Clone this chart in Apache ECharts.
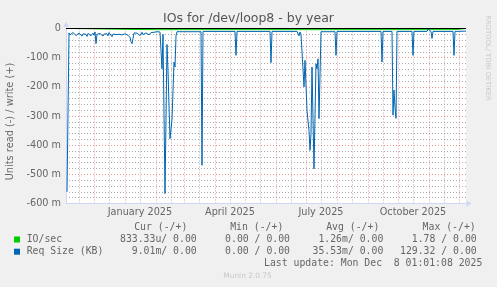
<!DOCTYPE html>
<html>
<head>
<meta charset="utf-8">
<script src="https://cdn.jsdelivr.net/npm/echarts@6/dist/echarts.min.js"></script>
<style>
html,body{margin:0;padding:0;background:#F0F0F0;}
#chart{width:497px;height:287px;}
</style>
</head>
<body>
<div id="chart"></div>
<script>
// ---- data (values in milli-units, read plotted negative) ----
const axisStart = '2024-11-03T01:01:00Z';
const axisEnd = '2025-12-08T01:01:00Z';
const dataStart = '2024-11-04T01:01:00Z';

// Req Size (KB), read (-), day offsets from dataStart
const readDays = [0,1,2,3,4,5,6,7,8,9,10,11,12,13,14,15,16,17,18,19,20,21,22,23,24,25,26,27,28,29,30,31,32,33,34,35,36,37,38,39,40,41,42,43,44,45,46,47,48,49,50,51,52,53,54,55,56,57,58,59,60,61,62,63,64,65,66,67,68,69,70,71,72,73,74,75,76,77,78,79,80,81,82,83,84,85,86,87,88,89,90,91,92,93,94,
  95,96,98,100,101,103,105,107,108,109,110,134,135,136,165,166,167,168,169,170,192,193,194,203,204,205,
  230,231,232,233,234,235,236,237,238,240,242,243,244,245,247,249,250,251,252,254,268,269,270,
  308,309,310,314,315,316,325,326,327,328,329,330,345,346,347,355,356,357,360,361,363,364,365,366,
  369,370,371,377,378,379,386,387,388,399];
const readValues = [-560,-290,-15,-22,-18,-25,-14,-20,-12,-24,-19,-28,-16,-21,-13,-26,-18,-23,-15,-20,-27,-17,-22,-14,-25,-19,-16,-23,-12,-52,-20,-15,-24,-17,-21,-13,-26,-19,-15,-22,-18,-25,-14,-20,-16,-28,-19,-23,-15,-21,-17,-24,-20,-18,-14,-22,-16,-26,-18,-20,-15,-23,-19,-30,-45,-52,-35,-15,-12,-20,-16,-22,-14,-24,-18,-13,-21,-17,-25,-15,-19,-12,-22,-16,-14,-20,-11,-13,-10,-12,-11,-13,-10,-12,-11,
  -138,-20,-566,-55,-145,-378,-312,-115,-132,-25,-11,-11,-469,-10,-10,-15,-10,-10,-92,-10,-10,-14,-10,-10,-117,-10,
  -10,-15,-25,-12,-20,-15,-14,-200,-109,-281,-350,-418,-360,-132,-481,-121,-138,-104,-309,-11,-11,-92,-10,
  -10,-15,-10,-10,-115,-10,-10,-297,-211,-270,-308,-10,-10,-92,-10,-10,-15,-10,-10,-2,-2,-10,-34,-10,
  -10,-15,-10,-10,-13,-10,-10,-92,-10,-9];

// IO/sec, read (-)
const ioDays = [0,5,6,65,66,88,89,95,96,106,107,108,123,124,169,170,204,205,269,270,315,316,328,329,346,347,365,366,387,388,399];
const ioValues = [0,0,-3.2,-3.2,0,-4,0,-4,0,-4,-4,0,-4,0,-4,0,-4,0,-4,0,-4,0,-4,0,-4,0,-4,0,-4,0,0];

// axis ticks
const monthStarts = ['2024-12-01','2025-01-01','2025-02-01','2025-03-01','2025-04-01','2025-05-01','2025-06-01','2025-07-01','2025-08-01','2025-09-01','2025-10-01','2025-11-01','2025-12-01'];
const midMonths = ['2024-11-16','2024-12-16','2025-01-16','2025-02-16','2025-03-16','2025-04-16','2025-05-16','2025-06-16','2025-07-16','2025-08-16','2025-09-16','2025-10-16','2025-11-16'];
const xLabelDates = ['2025-01-16','2025-04-16','2025-07-16','2025-10-16'];
const xTickLabels = ['January 2025','April 2025','July 2025','October 2025'];
const yTickValues = [-600,-500,-400,-300,-200,-100,0];
const yTickLabels = ['-600 m','-500 m','-400 m','-300 m','-200 m','-100 m','0'];

// legend table
const legendNames = ['IO/sec','Req Size (KB)'];
const legendColors = ['#00CC00','#0066B3'];
const legendHeaders = ['Cur (-/+)','Min (-/+)','Avg (-/+)','Max (-/+)'];
const curValues = ['833.33u/ 0.00','9.01m/ 0.00'];
const minValues = ['0.00 / 0.00','0.00 / 0.00'];
const avgValues = ['1.26m/ 0.00','35.53m/ 0.00'];
const maxValues = ['1.78 / 0.00','129.32 / 0.00'];
const lastUpdate = 'Last update: Mon Dec  8 01:01:08 2025';

// ---- build ----
const DAY = 86400000;
const t0 = Date.parse(dataStart);
const toTs = s => Date.parse(s);
const readData = readDays.map((d, i) => [t0 + d * DAY, readValues[i]]);
const ioData = ioDays.map((d, i) => [t0 + d * DAY, ioValues[i]]);
const labelTs = xLabelDates.map(toTs);

const FONT = 'DejaVu Sans';
const MONO = 'DejaVu Sans Mono';
const fontColor = '#666666';
const axisColor = '#CFD6F8';
const majorGrid = 'rgba(222,79,79,0.6)';
const minorGrid = 'rgba(143,143,143,0.75)';

function txt(text, x, y, opts) {
  opts = opts || {};
  return {
    type: 'text', x: x, y: y, rotation: opts.rotation || 0, silent: true,
    style: {
      text: text, fill: opts.color || fontColor,
      fontSize: opts.size || 9.8, fontFamily: opts.family || MONO,
      align: opts.align || 'left', verticalAlign: 'middle',
      textAlign: opts.align || 'left', textVerticalAlign: 'middle'
    }
  };
}

const graphics = [];
graphics.push(txt('Units read (-) / write (+)', 10.7, 121.5, {rotation: Math.PI / 2, family: FONT, size: 9.8, align: 'center'}));
graphics.push(txt('RRDTOOL/ TOBI OETIKER', 488, 58, {rotation: -Math.PI / 2, family: FONT, size: 6.8, align: 'center', color: '#C8C8C8'}));
const colRight = [196.7, 290, 383.3, 476.7];
const headRight = [187.3, 283.3, 379.3, 475.7];
legendHeaders.forEach((h, i) => graphics.push(txt(h, headRight[i], 227.7, {align: 'right'})));
const rowsY = [239.5, 251.7];
legendNames.forEach((n, r) => {
  graphics.push({type: 'rect', silent: true, shape: {x: 14, y: rowsY[r] - 3, width: 6, height: 6}, style: {fill: legendColors[r]}});
  graphics.push(txt(n, 26.7, rowsY[r]));
  [curValues, minValues, avgValues, maxValues].forEach((arr, c) => graphics.push(txt(arr[r], colRight[c], rowsY[r], {align: 'right'})));
});
graphics.push(txt(lastUpdate, 482.3, 263.7, {align: 'right'}));
graphics.push(txt('Munin 2.0.75', 247.5, 276, {family: FONT, size: 7.4, align: 'center', color: '#C8C8C8'}));

const chart = echarts.init(document.getElementById('chart'), null, {renderer: 'canvas'});
chart.setOption({
  animation: false,
  backgroundColor: '#F0F0F0',
  textStyle: {fontFamily: FONT},
  title: {
    text: 'IOs for /dev/loop8 - by year', left: 'center', top: 12.5, padding: 0,
    textStyle: {fontFamily: FONT, fontSize: 12.5, fontWeight: 'normal', color: '#555555'}
  },
  grid: {left: 66, top: 28.5, width: 400, height: 175, show: true, backgroundColor: '#FFFFFF', borderWidth: 0, containLabel: false},
  xAxis: [{
    type: 'value', min: toTs(axisStart), max: toTs(axisEnd), scale: true,
    axisLine: {onZero: false, lineStyle: {color: axisColor, width: 1}, symbol: ['none', 'triangle'], symbolSize: [6, 5], symbolOffset: [0, 3]},
    axisTick: {show: false, customValues: monthStarts.map(toTs)},
    splitLine: {show: true, lineStyle: {color: majorGrid, width: 1, type: [1, 2]}},
    axisLabel: {
      customValues: labelTs, color: fontColor, fontSize: 9.7, fontFamily: FONT, margin: 4,
      formatter: v => { const i = labelTs.indexOf(v); return i >= 0 ? xTickLabels[i] : ''; }
    }
  }, {
    type: 'value', min: toTs(axisStart), max: toTs(axisEnd), scale: true, position: 'top',
    axisLine: {show: false}, axisLabel: {show: false},
    axisTick: {show: false, customValues: midMonths.map(toTs)},
    splitLine: {show: true, lineStyle: {color: minorGrid, width: 1, type: [1, 2]}}
  }],
  yAxis: {
    type: 'value', min: -600, max: 0, interval: 100,
    axisLine: {show: true, onZero: false, lineStyle: {color: axisColor, width: 1}, symbol: ['none', 'triangle'], symbolSize: [6, 5], symbolOffset: [0, 4]},
    axisTick: {show: false},
    minorTick: {show: false, splitNumber: 5},
    minorSplitLine: {show: true, lineStyle: {color: minorGrid, width: 1, type: [1, 2]}},
    splitLine: {show: true, lineStyle: {color: majorGrid, width: 1, type: [1, 2]}},
    axisLabel: {
      color: fontColor, fontSize: 9.7, fontFamily: FONT, margin: 5,
      formatter: v => { const i = yTickValues.indexOf(v); return i >= 0 ? yTickLabels[i] : ''; }
    }
  },
  series: [{
    name: 'IO/sec', type: 'line', data: ioData, showSymbol: false, symbol: 'none',
    lineStyle: {color: '#00CC00', width: 1}, itemStyle: {color: '#00CC00'}, silent: true, z: 2
  }, {
    name: 'Req Size (KB)', type: 'line', data: readData, showSymbol: false, symbol: 'none',
    lineStyle: {color: '#0066B3', width: 1}, itemStyle: {color: '#0066B3'}, silent: true, z: 3
  }, {
    name: 'zero', type: 'line', data: [], showSymbol: false, silent: true, z: 10,
    markLine: {
      silent: true, symbol: ['none', 'none'], label: {show: false}, animation: false,
      lineStyle: {color: '#000000', width: 1, type: 'solid'},
      data: [{yAxis: 0}]
    }
  }],
  graphic: graphics
});
</script>
</body>
</html>
